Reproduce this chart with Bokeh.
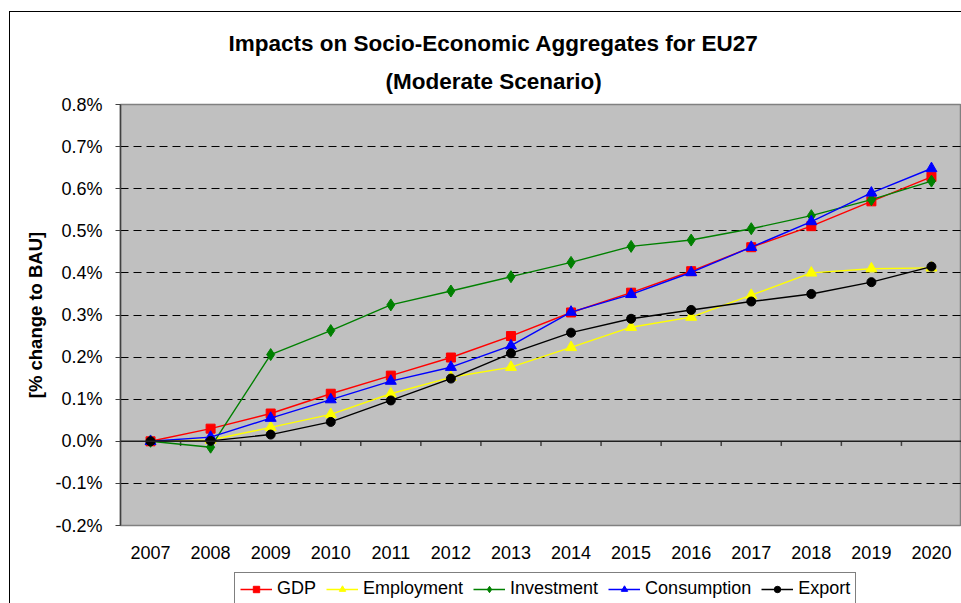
from bokeh.plotting import figure
from bokeh.layouts import column
from bokeh.models import (Range1d, FixedTicker, PrintfTickFormatter, Span, Legend,
                          LegendItem, Title, ColumnDataSource)
from bokeh.embed import file_html
from bokeh.resources import INLINE

years = ["2007", "2008", "2009", "2010", "2011", "2012", "2013",
         "2014", "2015", "2016", "2017", "2018", "2019", "2020"]
gdp = [0.000, 0.030, 0.066, 0.113, 0.156, 0.199, 0.250, 0.306, 0.353, 0.404, 0.461, 0.511, 0.570, 0.628]
employment = [0.000, 0.003, 0.033, 0.064, 0.113, 0.152, 0.176, 0.223, 0.271, 0.295, 0.347, 0.400, 0.410, 0.412]
investment = [0.000, -0.014, 0.206, 0.263, 0.324, 0.357, 0.391, 0.425, 0.463, 0.478, 0.505, 0.536, 0.574, 0.618]
consumption = [0.000, 0.010, 0.055, 0.099, 0.143, 0.176, 0.227, 0.307, 0.349, 0.401, 0.461, 0.522, 0.590, 0.648]
export = [0.000, 0.001, 0.016, 0.046, 0.097, 0.149, 0.209, 0.258, 0.291, 0.312, 0.332, 0.350, 0.378, 0.415]
y_ticks = [-0.2, -0.1, 0.0, 0.1, 0.2, 0.3, 0.4, 0.5, 0.6, 0.7, 0.8]

FONT = "Liberation Sans"
xs = list(range(len(years)))

p = figure(frame_width=841, frame_height=421, output_backend="svg", toolbar_location=None,
           x_range=Range1d(-0.5, len(years) - 0.5), y_range=Range1d(y_ticks[0], y_ticks[-1]),
           min_border_left=120, min_border_right=0, min_border_top=104, min_border_bottom=44)

p.background_fill_color = "#C0C0C0"
p.border_fill_alpha = 0
p.outline_line_color = "#808080"
p.outline_line_width = 1.5
p.styles = {"background": "linear-gradient(#000,#000) 9px 11px / 1px 100% no-repeat, "
                          "linear-gradient(#000,#000) 9px 11px / 100% 1px no-repeat, #ffffff"}

# titles
p.add_layout(Title(text="(Moderate Scenario)", align="left", offset=265,
                   text_font=FONT, text_font_size="22.5px", text_font_style="bold",
                   text_color="black", standoff=22), "above")
p.add_layout(Title(text="Impacts on Socio-Economic Aggregates for EU27", align="left", offset=108,
                   text_font=FONT, text_font_size="22.5px", text_font_style="bold",
                   text_color="black", standoff=0), "above")

# y axis
p.yaxis.ticker = FixedTicker(ticks=y_ticks)
p.yaxis.formatter = PrintfTickFormatter(format="%.1f%%")
p.yaxis.major_label_text_font = FONT
p.yaxis.major_label_text_font_size = "18px"
p.yaxis.major_label_text_color = "black"
p.yaxis.major_label_standoff = 13
p.yaxis.major_tick_out = 5
p.yaxis.major_tick_in = 0
p.yaxis.minor_tick_line_color = None
p.yaxis.axis_line_color = "#404040"
p.yaxis.axis_line_width = 1.5
p.yaxis.major_tick_line_color = "#404040"
p.yaxis.axis_label = "[% change to BAU]"
p.yaxis.axis_label_text_font = FONT
p.yaxis.axis_label_text_font_size = "18.5px"
p.yaxis.axis_label_text_font_style = "bold"
p.yaxis.axis_label_text_color = "black"
p.yaxis.axis_label_standoff = 6

# x axis
p.xaxis.ticker = FixedTicker(ticks=xs)
p.xaxis.major_label_overrides = {i: y for i, y in enumerate(years)}
p.xaxis.major_label_text_font = FONT
p.xaxis.major_label_text_font_size = "18px"
p.xaxis.major_label_text_color = "black"
p.xaxis.major_label_standoff = 20
p.xaxis.major_tick_out = 0
p.xaxis.major_tick_in = 0
p.xaxis.minor_tick_out = 0
p.xaxis.minor_tick_line_color = None
p.xaxis.axis_line_color = None

# grid
p.xgrid.grid_line_color = None
p.ygrid.ticker = FixedTicker(ticks=y_ticks)
p.ygrid.grid_line_color = "black"
p.ygrid.grid_line_dash = "8 5"
p.ygrid.grid_line_width = 1

# zero line with category tick marks
p.add_layout(Span(location=0, dimension="width", line_color="#202020", line_width=1.5))
bounds = [i + 0.5 for i in xs[:-1]]
p.segment(x0=bounds, x1=bounds, y0=[0] * len(bounds), y1=[-0.011] * len(bounds),
          line_color="#404040", line_width=1.5)

series = [
    ("GDP", gdp, "#FF0000", "square", 9),
    ("Employment", employment, "#FFFF00", "triangle", 11),
    ("Investment", investment, "#008000", "diamond", 12),
    ("Consumption", consumption, "#0000FF", "triangle", 11),
    ("Export", export, "#000000", "circle", 9),
]

# legend strip below the chart (its ranges keep the data itself out of view)
lg = figure(width=961, height=34, output_backend="svg", toolbar_location=None,
            x_range=Range1d(1000, 1001), y_range=Range1d(1000, 1001),
            x_axis_type=None, y_axis_type=None,
            min_border_left=120, min_border_right=0, min_border_top=0, min_border_bottom=0)
lg.outline_line_color = None
lg.background_fill_color = "white"
lg.border_fill_alpha = 0
lg.xgrid.grid_line_color = None
lg.ygrid.grid_line_color = None
lg.styles = {"background": "linear-gradient(#000,#000) 9px 0px / 1px 100% no-repeat, #ffffff"}

items = []
for name, vals, color, marker, size in series:
    src = ColumnDataSource(dict(x=xs, y=vals))
    p.line("x", "y", source=src, line_color=color, line_width=1.4)
    p.scatter("x", "y", source=src, marker=marker, size=size,
              fill_color=color, line_color=color)
    ll = lg.line("x", "y", source=src, line_color=color, line_width=1.4)
    ls = lg.scatter("x", "y", source=src, marker=marker, size=size - 1,
                    fill_color=color, line_color=color)
    items.append(LegendItem(label=name, renderers=[ll, ls], index=0))

legend = Legend(items=items, orientation="horizontal", location=(114, -2),
                label_text_font=FONT, label_text_font_size="18px", label_text_color="black",
                glyph_width=32, glyph_height=16, label_height=18, spacing=10, label_standoff=5,
                padding=5, margin=0, border_line_color="black", border_line_width=1,
                background_fill_color="white", background_fill_alpha=1)
lg.add_layout(legend)

layout = column(p, lg, spacing=0)
open("out.html", "w").write(file_html(layout, INLINE))
